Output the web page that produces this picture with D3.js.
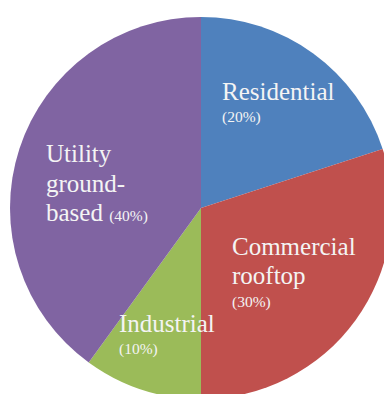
<!DOCTYPE html>
<html><head><meta charset="utf-8">
<script src="https://cdn.jsdelivr.net/npm/d3@7"></script>
<style>html,body{margin:0;padding:0;background:#fff;overflow:hidden}</style>
</head><body>
<svg id="c" width="384" height="394"></svg>
<script>
const categories = ["Residential", "Commercial rooftop", "Industrial", "Utility ground-based"];
const values = [20, 30, 10, 40];
const percentLabels = ["(20%)", "(30%)", "(10%)", "(40%)"];
const colors = ["#4F81BD", "#C0504D", "#9BBB59", "#8064A2"];

const svg = d3.select("#c");
const cx = 201, cy = 208, r = 191;
const g = svg.append("g").attr("transform", `translate(${cx},${cy})`);
const pie = d3.pie().sort(null).value(d => d)(values);
const arc = d3.arc().innerRadius(0).outerRadius(r);
g.selectAll("path").data(pie).enter().append("path")
  .attr("d", arc).attr("fill", (d, i) => colors[i])
  .attr("stroke", "none");

// label layout (positions relative to page)
const layout = [
  {x: 222, lines: [{t: "Residential", y: 100, big: true}, {t: "(20%)", y: 122, big: false}]},
  {x: 232, lines: [{t: "Commercial", y: 255, big: true}, {t: "rooftop", y: 284, big: true}, {t: "(30%)", y: 307, big: false}]},
  {x: 119, lines: [{t: "Industrial", y: 332, big: true}, {t: "(10%)", y: 354, big: false}]},
  {x: 46, lines: [{t: "Utility", y: 162, big: true}, {t: "ground-", y: 192, big: true}, {t: "based", y: 221, big: true, suffix: true}]}
];
layout.forEach((L, i) => {
  L.lines.forEach(ln => {
    const t = svg.append("text").attr("x", L.x).attr("y", ln.y)
      .attr("fill", "#f4f4f4")
      .attr("font-family", "'Liberation Serif','Times New Roman',serif")
      .attr("font-size", ln.big ? 25 : 15.5);
    if (ln.suffix) {
      t.append("tspan").text(ln.t + " ");
      t.append("tspan").attr("font-size", 15.5).text(percentLabels[i]);
    } else {
      t.text(ln.t);
    }
  });
});
</script>
</body></html>
